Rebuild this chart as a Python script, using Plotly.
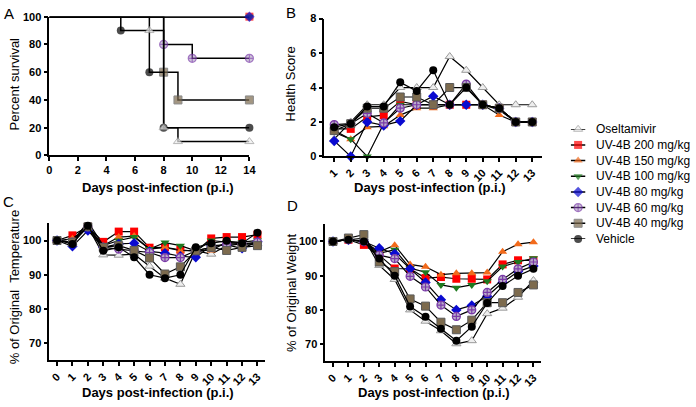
import plotly.graph_objects as go

W, H = 696, 407
FONT = "Arial"

groups = ["Oseltamivir", "UV-4B 200 mg/kg", "UV-4B 150 mg/kg", "UV-4B 100 mg/kg",
          "UV-4B 80 mg/kg", "UV-4B 60 mg/kg", "UV-4B 40 mg/kg", "Vehicle"]

# Panel A: Kaplan-Meier survival (event days, percent)
surv_days = {
    "Oseltamivir": [0, 7, 8, 9, 14],
    "UV-4B 200 mg/kg": [0, 14],
    "UV-4B 150 mg/kg": [0, 14],
    "UV-4B 100 mg/kg": [0, 14],
    "UV-4B 80 mg/kg": [0, 14],
    "UV-4B 60 mg/kg": [0, 8, 10, 14],
    "UV-4B 40 mg/kg": [0, 8, 9, 14],
    "Vehicle": [0, 5, 7, 8, 14],
}
surv_pct = {
    "Oseltamivir": [100, 90, 20, 10, 10],
    "UV-4B 200 mg/kg": [100, 100],
    "UV-4B 150 mg/kg": [100, 100],
    "UV-4B 100 mg/kg": [100, 100],
    "UV-4B 80 mg/kg": [100, 100],
    "UV-4B 60 mg/kg": [100, 80, 70, 70],
    "UV-4B 40 mg/kg": [100, 60, 40, 40],
    "Vehicle": [100, 90, 60, 20, 20],
}

# Panel B: health score, days 1-13
health_days = list(range(1, 14))
health = {
    "Oseltamivir":     [1.0, 2.0, 3.0, 3.0, 4.0, 4.0, 4.0, 5.8, 5.0, 4.0, 3.0, 3.0, 3.0],
    "UV-4B 200 mg/kg": [1.6, 1.6, 2.3, 2.4, 3.2, 3.0, 3.0, 3.0, 3.0, 3.0, 2.8, 2.0, 2.0],
    "UV-4B 150 mg/kg": [1.4, 1.0, 1.7, 1.75, 2.4, 2.8, 2.8, 3.0, 3.0, 3.0, 2.4, 2.0, 2.0],
    "UV-4B 100 mg/kg": [1.5, 1.0, 0.0, 1.9, 3.0, 3.0, 3.0, 3.0, 3.0, 3.0, 2.7, 2.0, 2.0],
    "UV-4B 80 mg/kg":  [0.9, 0.0, 2.0, 1.8, 2.05, 3.0, 3.5, 3.0, 3.0, 3.0, 2.8, 2.0, 2.0],
    "UV-4B 60 mg/kg":  [1.85, 1.9, 2.5, 1.95, 2.8, 3.0, 3.0, 3.0, 4.2, 3.0, 2.8, 2.0, 2.0],
    "UV-4B 40 mg/kg":  [1.5, 1.9, 2.8, 2.8, 3.45, 3.45, 3.0, 4.0, 4.0, 3.0, 2.8, 2.0, 2.0],
    "Vehicle":         [1.7, 1.9, 2.9, 2.9, 4.3, 3.8, 5.0, 3.0, 4.0, 3.0, 2.8, 2.0, 2.0],
}

# Panel C: % of original temperature, days 0-13
days = list(range(0, 14))
temperature = {
    "Oseltamivir":     [100, 99.5, 104, 95.8, 95.7, 96, 92.5, 89, 87.2, 97, 96, 98.5, 99, 99],
    "UV-4B 200 mg/kg": [100, 101.5, 104, 99.6, 102.6, 102.6, 97.9, 98, 97.3, 96.8, 100.6, 101, 101, 101.7],
    "UV-4B 150 mg/kg": [100, 100.5, 104, 98.5, 101, 101.3, 97.5, 98, 97, 97, 97.1, 99.5, 99, 98.9],
    "UV-4B 100 mg/kg": [100, 99.5, 105.5, 98.5, 100, 101, 97.5, 99.4, 98.5, 97, 100, 99.5, 99.5, 100],
    "UV-4B 80 mg/kg":  [100, 98.3, 102.9, 98, 99, 99.2, 96.8, 96.3, 95.4, 95.1, 98.5, 98.7, 97.7, 99.6],
    "UV-4B 60 mg/kg":  [100, 99.5, 104, 98, 97.5, 97, 96.5, 95, 95, 97, 98, 99, 99, 99.5],
    "UV-4B 40 mg/kg":  [100, 99.5, 104, 98, 98.5, 97.1, 94.9, 90.2, 92.3, 97, 98, 97.1, 98, 98.5],
    "Vehicle":         [100, 99, 104.3, 97, 98, 95.1, 90, 89, 90, 98, 99.2, 99.9, 99.2, 102.3],
}

# Panel D: % of original weight, days 0-13
weight = {
    "Oseltamivir":     [100, 100.5, 101, 93, 88.9, 80, 76.7, 73.9, 70.1, 71, 78.9, 80.5, 83.7, 88.6],
    "UV-4B 200 mg/kg": [100, 100.5, 99, 96, 92.1, 92, 89.3, 89.6, 89.1, 89.1, 88.9, 93.3, 94.5, 94.5],
    "UV-4B 150 mg/kg": [100, 100.5, 100, 97, 98.9, 93.3, 92.6, 90.3, 90.7, 90.7, 90.9, 97, 99.2, 99.8],
    "UV-4B 100 mg/kg": [100, 100.5, 100, 96.5, 97.6, 92.2, 91, 87.3, 86.5, 87.3, 88.4, 92.7, 94, 95.1],
    "UV-4B 80 mg/kg":  [100, 100.5, 100, 98, 96.4, 92, 88, 83, 80, 81.3, 84, 88, 91.2, 92.8],
    "UV-4B 60 mg/kg":  [100, 100.5, 100, 96, 95, 89.8, 86.7, 81.4, 78.1, 80, 85.1, 88.9, 92, 94],
    "UV-4B 40 mg/kg":  [100, 101, 102, 94, 91.2, 83.2, 81.1, 76.4, 74.2, 77, 82.1, 82.1, 85.1, 87.3],
    "Vehicle":         [100, 100.5, 100, 95, 90, 81, 78, 74.5, 71, 75.1, 82, 87, 90, 92],
}

xtick_labels_b = [str(d) for d in health_days]
xtick_labels_cd = [str(d) for d in days]

style = {
    "Oseltamivir":     dict(symbol="triangle-up", color="#eeeeee", line=dict(color="#9a9a9a", width=1)),
    "UV-4B 200 mg/kg": dict(symbol="square", color="#ff0000", line=dict(color="#ff0000", width=0)),
    "UV-4B 150 mg/kg": dict(symbol="triangle-up", color="#f26a1b", line=dict(color="#f26a1b", width=0)),
    "UV-4B 100 mg/kg": dict(symbol="triangle-down", color="#1f7a1f", line=dict(color="#1f7a1f", width=0)),
    "UV-4B 80 mg/kg":  dict(symbol="diamond", color="#0a0ad0", line=dict(color="#0a0ad0", width=0)),
    "UV-4B 60 mg/kg":  dict(symbol="circle-cross", color="#b9aec8", line=dict(color="#7a3aa8", width=1.2)),
    "UV-4B 40 mg/kg":  dict(symbol="square", color="#7d6b4e", line=dict(color="#5a5a5a", width=1)),
    "Vehicle":         dict(symbol="circle", color="#000000", line=dict(color="#000000", width=0)),
}


def px_x(a, b):
    return [a / W, b / W]


def px_y(top, bottom):
    return [1 - bottom / H, 1 - top / H]


fig = go.Figure()

# --- Panel A ---
orderA = ["UV-4B 200 mg/kg", "UV-4B 150 mg/kg", "UV-4B 100 mg/kg", "UV-4B 80 mg/kg",
          "UV-4B 60 mg/kg", "UV-4B 40 mg/kg", "Vehicle", "Oseltamivir"]
for g in orderA:
    st = style[g]
    xs = surv_days[g]
    sizes = [0] + [8] * (len(xs) - 1)
    fig.add_trace(go.Scatter(
        x=xs, y=surv_pct[g], mode="lines+markers", line=dict(color="black", width=1.5, shape="hv"),
        marker=dict(symbol=st["symbol"], color=st["color"], line=st["line"], size=sizes),
        xaxis="x", yaxis="y", showlegend=False, cliponaxis=False))

# --- Panels B, C, D ---
order = ["Oseltamivir", "UV-4B 200 mg/kg", "UV-4B 150 mg/kg", "UV-4B 100 mg/kg",
         "UV-4B 80 mg/kg", "UV-4B 60 mg/kg", "UV-4B 40 mg/kg", "Vehicle"]
for data, xs, xa, ya in [(health, health_days, "x2", "y2"),
                         (temperature, days, "x3", "y3"),
                         (weight, days, "x4", "y4")]:
    for g in order:
        st = style[g]
        fig.add_trace(go.Scatter(
            x=xs, y=data[g], mode="lines+markers",
            line=dict(color="black", width=1.2),
            marker=dict(symbol=st["symbol"], color=st["color"], line=st["line"], size=8),
            xaxis=xa, yaxis=ya, showlegend=False, cliponaxis=False))

# --- Manual legend ---
for i, g in enumerate(groups):
    st = style[g]
    fig.add_trace(go.Scatter(
        x=[0, 0.5, 1], y=[i, i, i], mode="lines+markers",
        line=dict(color="black", width=1.5),
        marker=dict(symbol=st["symbol"], color=st["color"], line=st["line"], size=[0, 8, 0]),
        xaxis="x5", yaxis="y5", showlegend=False, cliponaxis=False, hoverinfo="skip"))

tickfont = dict(family=FONT, size=11, color="black", weight="bold")
axis_common = dict(showline=True, linecolor="black", linewidth=1.5, ticks="outside",
                   ticklen=4, tickwidth=1.5, tickcolor="black", showgrid=False,
                   zeroline=False, tickfont=tickfont, mirror=False)

layout = dict(
    width=W, height=H, margin=dict(l=0, r=0, t=0, b=0),
    paper_bgcolor="white", plot_bgcolor="white",
    font=dict(family=FONT, color="black"),
    xaxis=dict(domain=px_x(47, 250), range=[0, 14], tickvals=list(range(0, 15, 2)),
               anchor="y", **axis_common),
    yaxis=dict(domain=px_y(11, 154), range=[0, 100], tickvals=list(range(0, 101, 20)),
               anchor="x", **axis_common),
    xaxis2=dict(domain=px_x(326, 547), range=[0.4, 13.6], tickvals=health_days,
                ticktext=xtick_labels_b, tickangle=-45, anchor="y2", **axis_common),
    yaxis2=dict(domain=px_y(13, 155), range=[0, 8], tickvals=[0, 2, 4, 6, 8],
                anchor="x2", **axis_common),
    xaxis3=dict(domain=px_x(47, 266), range=[-0.5, 13.5], tickvals=days,
                ticktext=xtick_labels_cd, tickangle=-45, anchor="y3", **axis_common),
    yaxis3=dict(domain=px_y(224, 365), range=[65, 105], tickvals=[70, 80, 90, 100],
                anchor="x3", **axis_common),
    xaxis4=dict(domain=px_x(327, 546), range=[-0.5, 13.5], tickvals=days,
                ticktext=xtick_labels_cd, tickangle=-45, anchor="y4", **axis_common),
    yaxis4=dict(domain=px_y(225, 366), range=[65, 105], tickvals=[70, 80, 90, 100],
                anchor="x4", **axis_common),
    xaxis5=dict(domain=px_x(576, 591), range=[0, 1], visible=False, anchor="y5"),
    yaxis5=dict(domain=px_y(127, 240), range=[7, 0], visible=False, anchor="x5"),
)
fig.update_layout(**layout)

ann = []
def txt(x, y, s, size=13, bold=False, angle=0, xanchor="center"):
    ann.append(dict(x=x / W, y=1 - y / H, xref="paper", yref="paper", text=s, showarrow=False,
                    textangle=angle, xanchor=xanchor, yanchor="middle",
                    font=dict(family=FONT, size=size, color="black", weight="bold" if bold else "normal")))

txt(6, 8, "A", size=15)
txt(292, 7, "B", size=15)
txt(6, 201, "C", size=15)
txt(294, 206, "D", size=15)
txt(157, 187, "Days post-infection (p.i.)", bold=True)
txt(433, 187, "Days post-infection (p.i.)", bold=True)
txt(157, 398, "Days post-infection (p.i.)", bold=True)
txt(437, 398, "Days post-infection (p.i.)", bold=True)
txt(12, 80, "Percent survival", angle=-90)
txt(292, 80, "Health Score", angle=-90)
txt(12, 290, "% of Original  Temperature", angle=-90)
txt(292, 295, "% of Original Weight", angle=-90)

for i, g in enumerate(groups):
    ann.append(dict(x=600 / W, y=i, xref="paper", yref="y5", text=g, showarrow=False,
                    xanchor="left", yanchor="middle",
                    font=dict(family=FONT, size=12, color="black")))

fig.update_layout(annotations=ann)
fig.write_html("out.html", config={"displayModeBar": False},
               post_script="document.body.style.margin='0';document.body.style.overflow='hidden';")
